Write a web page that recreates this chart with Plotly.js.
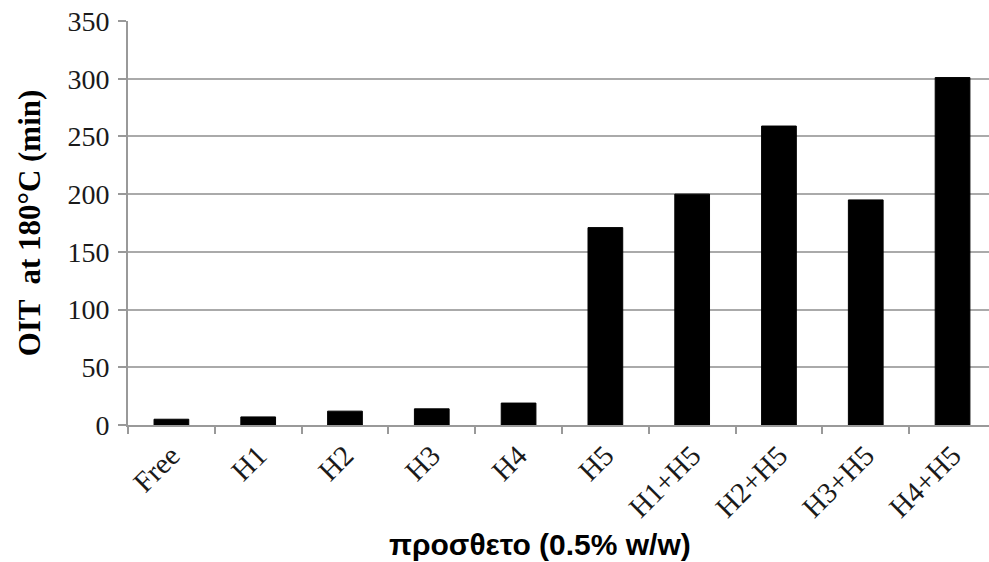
<!DOCTYPE html>
<html>
<head>
<meta charset="utf-8">
<script src="https://cdn.plot.ly/plotly-3.0.1.min.js"></script>
<style>html,body{margin:0;padding:0;background:#fff;}#chart{width:989px;height:562px;}</style>
</head>
<body>
<div id="chart"></div>
<script>
var categories = ["Free", "H1", "H2", "H3", "H4", "H5", "H1+H5", "H2+H5", "H3+H5", "H4+H5"];
var oitValues = [5, 7, 12, 14, 19, 171, 200, 259, 195, 301];
var yTitle = "OIT  at 180°C (min)";
var xTitle = "προσθετο (0.5% w/w)";

var trace = {
  type: "bar",
  x: categories,
  y: oitValues,
  marker: {color: "#000000", line: {color: "#000000", width: 1}},
  hoverinfo: "x+y"
};

var layout = {
  width: 989,
  height: 562,
  margin: {l: 128, r: 0, t: 21, b: 137},
  paper_bgcolor: "#ffffff",
  plot_bgcolor: "#ffffff",
  bargap: 0.6,
  showlegend: false,
  xaxis: {
    type: "category",
    range: [-0.5, 9.42],
    tickson: "boundaries",
    ticks: "outside",
    ticklen: 7,
    tickcolor: "#999999",
    tickwidth: 2,
    showline: true,
    linecolor: "#999999",
    linewidth: 2,
    showgrid: false,
    tickangle: -45,
    ticklabelstandoff: 0,
    tickfont: {family: "Liberation Serif, Times New Roman, serif", size: 29, color: "#1a1a1a"}
  },
  yaxis: {
    range: [0, 350],
    dtick: 50,
    ticks: "outside",
    ticklen: 8,
    tickcolor: "#999999",
    tickwidth: 2,
    showline: true,
    linecolor: "#999999",
    linewidth: 2,
    showgrid: true,
    gridcolor: "#aaaaaa",
    gridwidth: 2,
    zeroline: false,
    ticklabelstandoff: 3,
    tickfont: {family: "Liberation Serif, Times New Roman, serif", size: 28, color: "#1a1a1a"},
    title: {text: yTitle, font: {family: "Liberation Serif, Times New Roman, serif", size: 31, color: "#000000", weight: "bold"}, standoff: 18}
  },
  annotations: [{
    text: xTitle,
    xref: "paper", yref: "paper",
    x: 0.4785, y: -0.297,
    xanchor: "center", yanchor: "middle",
    showarrow: false,
    font: {family: "Liberation Sans Narrow, Liberation Sans, Arial, sans-serif", size: 30, color: "#000000", weight: "bold"}
  }]
};

Plotly.newPlot("chart", [trace], layout, {displayModeBar: false, staticPlot: true});
</script>
</body>
</html>
